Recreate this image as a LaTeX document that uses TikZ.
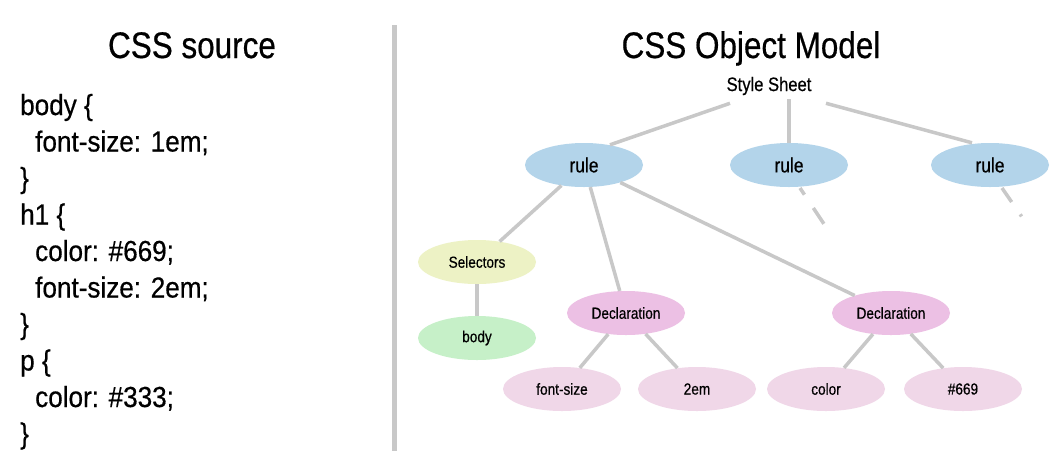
\documentclass[tikz,border=0pt]{standalone}
\usepackage{fontspec}
\setmainfont{Liberation Sans}[FakeStretch=0.85,FakeBold=0.5]
\newfontfamily\codefont{Liberation Sans}[FakeStretch=0.9,FakeBold=0.5]
\usetikzlibrary{shapes.geometric}
\definecolor{linegray}{HTML}{C8C8C8}
\definecolor{ruleblue}{HTML}{B3D4EA}
\definecolor{selyellow}{HTML}{EDF2C5}
\definecolor{bodygreen}{HTML}{C6F0C8}
\definecolor{declpink}{HTML}{ECC0E4}
\definecolor{leafpink}{HTML}{F0D7E8}
\tikzset{
  oval/.style={ellipse, minimum width=118pt, minimum height=44pt, inner sep=0pt, text=black},
  rulenode/.style={oval, fill=ruleblue, font=\fontsize{20.5}{20.5}\selectfont},
  small/.style={oval, font=\fontsize{16}{16}\selectfont},
  conn/.style={draw=linegray, line width=3.5pt},
  codeline/.style={anchor=base west, inner sep=0pt, font=\codefont\fontsize{29}{29}\selectfont},
  title/.style={anchor=base, inner sep=0pt, font=\fontsize{37}{37}\selectfont},
}
\begin{document}
\begin{tikzpicture}[x=1pt,y=-1pt]
\useasboundingbox (0,0) rectangle (1053,451);
\fill[white] (0,0) rectangle (1053,451);
% separator
\fill[linegray] (392,25) rectangle (397,451);
% titles
\node[title] (t1) at (192,58) {CSS source};
\node[title] (t2) at (751,58) {CSS Object Model};
% code
\node[codeline] (c1) at (20,115) {body \{};
\node[codeline] (c2) at (35,151.5) {font-size: 1em;};
\node[codeline] (c3) at (20,188) {\}};
\node[codeline] (c4) at (20,224.5) {h1 \{};
\node[codeline] (c5) at (35,261) {color: \#669;};
\node[codeline] (c6) at (35,297.5) {font-size: 2em;};
\node[codeline] (c7) at (20,334) {\}};
\node[codeline] (c8) at (20,370.5) {p \{};
\node[codeline] (c9) at (35,407) {color: \#333;};
\node[codeline] (c10) at (20,443.5) {\}};
% tree
\node[inner sep=4pt, font=\fontsize{19.5}{19.5}\selectfont] (ss) at (769,86) {Style Sheet};
\node[rulenode] (r1) at (584,165) {rule};
\node[rulenode] (r2) at (789,165) {rule};
\node[rulenode] (r3) at (990,165) {rule};
\node[small, fill=selyellow] (sel) at (477,262) {Selectors};
\node[small, fill=bodygreen] (bd) at (477,338) {body};
\node[small, fill=declpink] (d1) at (626,313) {Declaration};
\node[small, fill=declpink] (d2) at (891,313) {Declaration};
\node[small, fill=leafpink] (l1) at (562,389) {font-size};
\node[small, fill=leafpink] (l2) at (697,389) {2em};
\node[small, fill=leafpink] (l3) at (826,389) {color};
\node[small, fill=leafpink] (l4) at (963,389) {\#669};
% connector ends
\coordinate (ssL) at ([shift={(-39,4)}]ss.south);
\coordinate (ssR) at ([shift={(57,4)}]ss.south);
\coordinate (r1top) at ([shift={(26,2)}]r1.north);
\coordinate (r3top) at ([shift={(-18,0)}]r3.north);
\coordinate (s2) at ([shift={(11,23)}]r2.center);
\coordinate (e2) at ([shift={(35,59)}]r2.center);
\coordinate (s3) at ([shift={(12,23)}]r3.center);
\coordinate (e3) at ([shift={(32,52)}]r3.center);
\draw[conn] (ssL) -- (r1top);
\draw[conn] (ss.south -| r2) -- (r2);
\draw[conn] (ssR) -- (r3top);
\draw[conn] (r1) -- (sel);
\draw[conn] (r1) -- (d1);
\draw[conn] (r1) -- (d2);
\draw[conn] (sel) -- (bd);
\draw[conn] (d1) -- (l1);
\draw[conn] (d1) -- (l2);
\draw[conn] (d2) -- (l3);
\draw[conn] (d2) -- (l4);
\draw[conn, dash pattern=on 8pt off 16pt on 19pt off 30pt] (s2) -- (e2);
\draw[conn, dash pattern=on 17pt off 15pt on 2.5pt off 30pt] (s3) -- (e3);
\end{tikzpicture}
\end{document}
